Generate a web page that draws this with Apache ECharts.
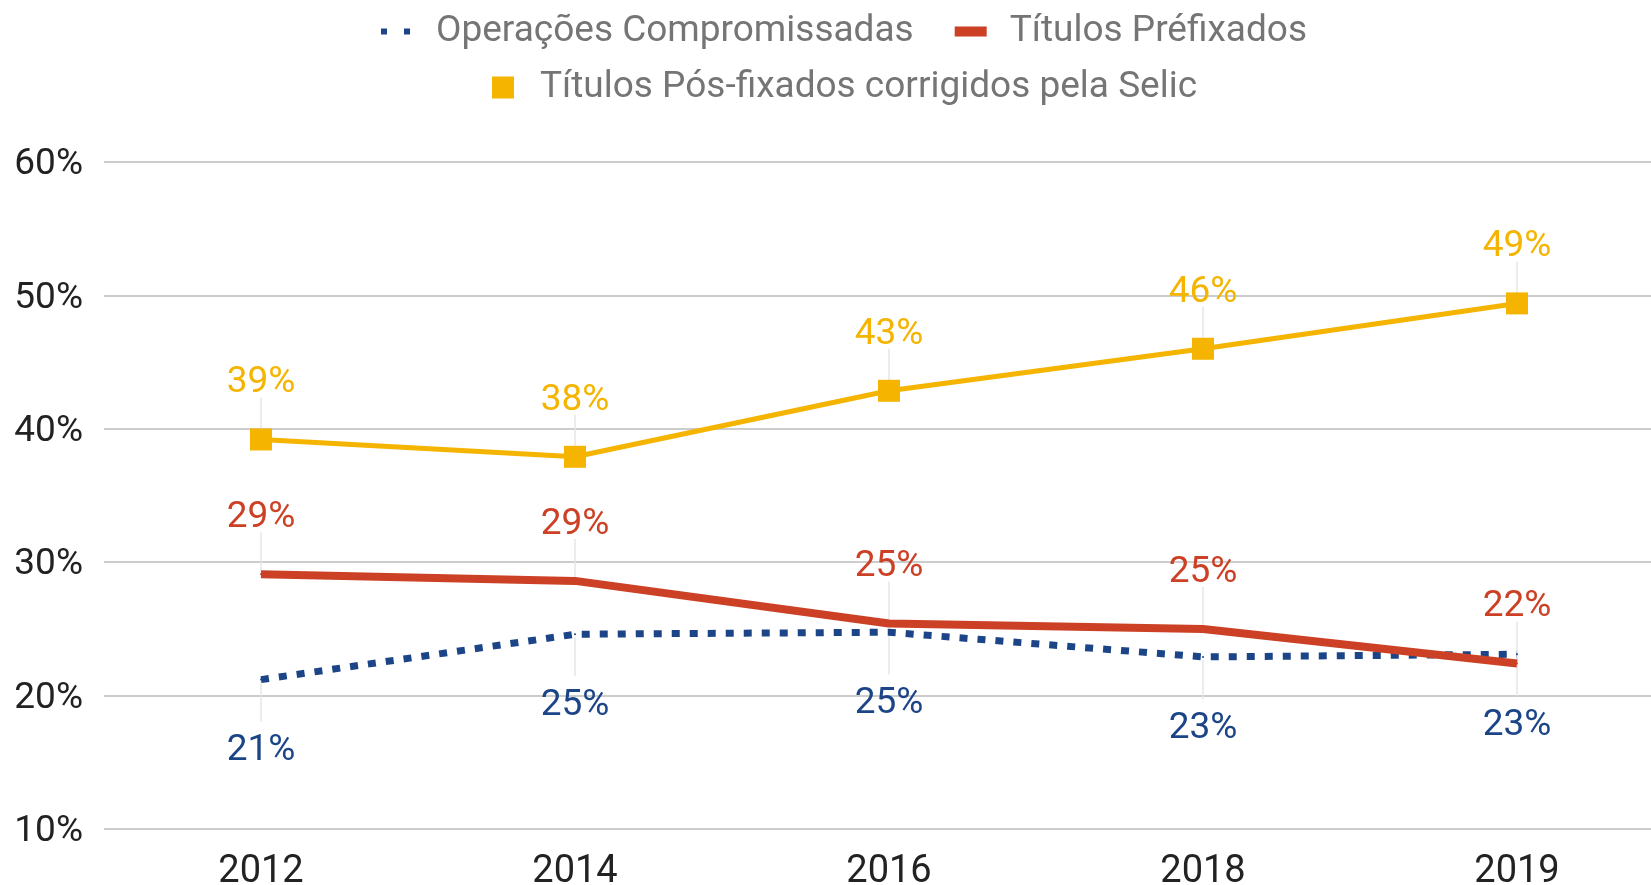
<!DOCTYPE html>
<html>
<head>
<meta charset="utf-8">
<script src="https://cdn.jsdelivr.net/npm/echarts@6/dist/echarts.min.js"></script>
<style>
  html, body { margin: 0; padding: 0; background: #fff; }
  #chart { width: 1651px; height: 885px; }
</style>
</head>
<body>
<div id="chart"></div>
<script>
const years = ["2012", "2014", "2016", "2018", "2019"];
const compromissadas = [21.2, 24.6, 24.75, 22.9, 23.1];
const prefixados = [29.1, 28.6, 25.4, 25.0, 22.4];
const posFixados = [39.2, 37.9, 42.85, 46.0, 49.4];
const yTicks = { min: 10, max: 60, step: 10 };

const FONT = "Roboto";
const BLUE = "#1c4587";
const RED = "#cc4125";
const YELLOW = "#f4b400";

const chart = echarts.init(document.getElementById("chart"));

function pct(p) {
  return Math.round(p.value) + "%";
}

// thin grey guide from each point towards its label (pixel offsets from the point)
function guideSeries(values, from, to) {
  return {
    type: "custom",
    silent: true,
    z: 1,
    data: years.map((y, i) => [y, values[i]]),
    renderItem(params, api) {
      const p = api.coord([api.value(0), api.value(1)]);
      return {
        type: "line",
        shape: { x1: p[0], y1: p[1] + from, x2: p[0], y2: p[1] + to },
        style: { stroke: "#e6e6e6", lineWidth: 1.5 }
      };
    }
  };
}

const legendText = { fontSize: 37, color: "#757575", fontFamily: FONT };

chart.setOption({
  animation: false,
  textStyle: { fontFamily: FONT },
  legend: [
    {
      left: 376,
      top: 8,
      itemWidth: 50,
      itemHeight: 22,
      itemGap: 41,
      itemStyle: { borderWidth: 0 },
      textStyle: legendText,
      data: [
        { name: "Operações Compromissadas", icon: "path://M0,0L0,0M50,22L50,22M0,8H6V14H0ZM23,8H29V14H23Z" },
        { name: "Títulos Préfixados", icon: "path://M0,0L0,0M50,22L50,22M0,6H32V16H0Z" }
      ]
    },
    {
      left: 487,
      top: 64,
      itemWidth: 43,
      itemHeight: 22,
      itemStyle: { borderWidth: 0 },
      textStyle: legendText,
      data: [
        { name: "Títulos Pós-fixados corrigidos pela Selic", icon: "path://M0,0L0,0M43,22L43,22M0,0H22V22H0Z" }
      ]
    }
  ],
  grid: {
    left: 104,
    top: 162,
    width: 1570,
    height: 667,
    outerBoundsMode: "none"
  },
  xAxis: {
    type: "category",
    data: years,
    boundaryGap: true,
    axisLine: { show: false },
    axisTick: { show: false },
    axisLabel: { fontSize: 38, color: "#222", margin: 24, fontFamily: FONT }
  },
  yAxis: {
    type: "value",
    min: yTicks.min,
    max: yTicks.max,
    interval: yTicks.step,
    axisLine: { show: false },
    axisTick: { show: false },
    splitLine: { lineStyle: { color: "#cccccc", width: 2 } },
    axisLabel: {
      fontSize: 37,
      color: "#222",
      margin: 21,
      verticalAlign: "top",
      lineHeight: 6,
      fontFamily: FONT,
      formatter: "{value}%"
    }
  },
  series: [
    guideSeries(compromissadas, 3, 42),
    guideSeries(prefixados, -42, 0),
    guideSeries(posFixados, -42, 0),
    {
      name: "Operações Compromissadas",
      type: "line",
      data: compromissadas,
      symbol: "circle",
      symbolSize: 2,
      itemStyle: { color: BLUE },
      lineStyle: { color: BLUE, width: 7, type: [8, 10], cap: "butt" },
      label: {
        show: true,
        position: "bottom",
        distance: 52,
        fontSize: 37,
        color: BLUE,
        fontFamily: FONT,
        formatter: pct
      },
      z: 2
    },
    {
      name: "Títulos Préfixados",
      type: "line",
      data: prefixados,
      symbol: "circle",
      symbolSize: 2,
      itemStyle: { color: RED },
      lineStyle: { color: RED, width: 8 },
      label: {
        show: true,
        position: "top",
        distance: 37,
        fontSize: 37,
        color: RED,
        fontFamily: FONT,
        formatter: pct
      },
      z: 3
    },
    {
      name: "Títulos Pós-fixados corrigidos pela Selic",
      type: "line",
      data: posFixados,
      symbol: "rect",
      symbolSize: 22,
      itemStyle: { color: YELLOW },
      lineStyle: { color: YELLOW, width: 5 },
      label: {
        show: true,
        position: "top",
        distance: 27,
        fontSize: 37,
        color: YELLOW,
        fontFamily: FONT,
        formatter: pct
      },
      z: 4
    }
  ]
});

window.addEventListener("resize", () => chart.resize());
</script>
</body>
</html>
